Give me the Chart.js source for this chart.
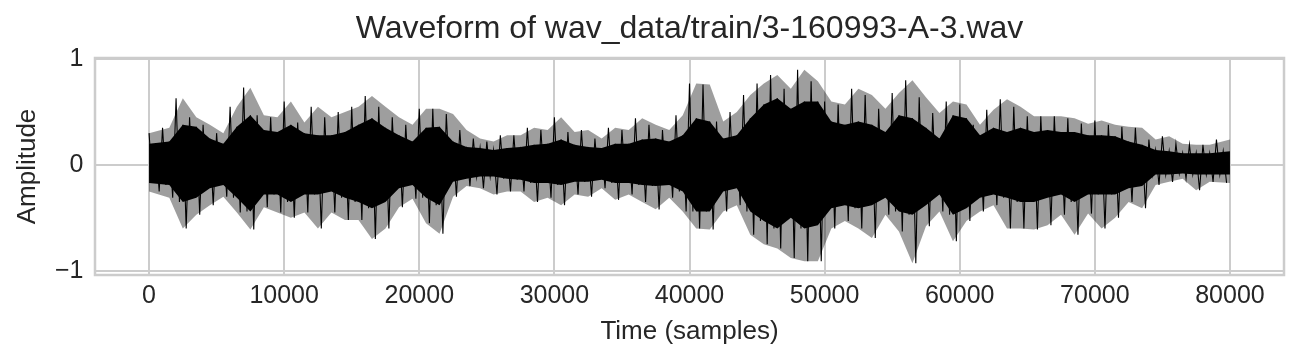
<!DOCTYPE html>
<html>
<head>
<meta charset="utf-8">
<script src="https://cdn.jsdelivr.net/npm/chart.js@4"></script>
<style>
  html, body { margin: 0; padding: 0; background: #ffffff; }
  #wrap { position: relative; width: 1301px; height: 363px; }
</style>
</head>
<body>
<div id="wrap"><canvas id="wave"></canvas></div>
<script>
// envelope of the clip, one value per 1000-sample bin
const binSize = 1000;
const nSamples = 80000;

// outermost spikes per bin
const peakMax = [
  0.30, 0.35, 0.63, 0.45, 0.38, 0.30, 0.55, 0.73, 0.47, 0.45,
  0.60, 0.40, 0.55, 0.45, 0.50, 0.55, 0.65, 0.55, 0.45, 0.38,
  0.53, 0.53, 0.48, 0.33, 0.25, 0.22, 0.28, 0.28, 0.35, 0.33,
  0.45, 0.31, 0.33, 0.25, 0.35, 0.33, 0.44, 0.38, 0.33, 0.47,
  0.77, 0.76, 0.41, 0.50, 0.66, 0.77, 0.85, 0.72, 0.90, 0.79,
  0.60, 0.57, 0.72, 0.66, 0.53, 0.68, 0.80, 0.64, 0.49, 0.60,
  0.57, 0.38, 0.52, 0.62, 0.55, 0.46, 0.46, 0.46, 0.44, 0.39,
  0.42, 0.38, 0.36, 0.35, 0.24, 0.27, 0.20, 0.19, 0.19, 0.24
];
const peakMin = [
  -0.25, -0.31, -0.60, -0.47, -0.38, -0.30, -0.45, -0.61, -0.40, -0.45,
  -0.50, -0.45, -0.60, -0.45, -0.52, -0.52, -0.70, -0.60, -0.40, -0.32,
  -0.55, -0.65, -0.30, -0.20, -0.22, -0.28, -0.25, -0.25, -0.35, -0.31,
  -0.38, -0.28, -0.30, -0.22, -0.33, -0.28, -0.35, -0.42, -0.31, -0.44,
  -0.60, -0.61, -0.44, -0.38, -0.66, -0.75, -0.79, -0.88, -0.91, -0.91,
  -0.60, -0.53, -0.60, -0.69, -0.47, -0.63, -0.93, -0.58, -0.44, -0.72,
  -0.53, -0.44, -0.38, -0.60, -0.60, -0.61, -0.57, -0.47, -0.66, -0.46,
  -0.60, -0.50, -0.35, -0.41, -0.19, -0.16, -0.13, -0.24, -0.16, -0.17
];

// dense (solid black) part per bin
const coreMax = [
  0.20, 0.22, 0.38, 0.36, 0.25, 0.20, 0.36, 0.47, 0.33, 0.31,
  0.38, 0.30, 0.28, 0.28, 0.31, 0.38, 0.44, 0.35, 0.28, 0.22,
  0.35, 0.36, 0.22, 0.17, 0.16, 0.14, 0.16, 0.17, 0.19, 0.20,
  0.24, 0.19, 0.17, 0.16, 0.20, 0.20, 0.24, 0.25, 0.22, 0.28,
  0.44, 0.41, 0.25, 0.28, 0.44, 0.57, 0.63, 0.53, 0.60, 0.60,
  0.41, 0.38, 0.41, 0.38, 0.31, 0.47, 0.44, 0.35, 0.25, 0.47,
  0.44, 0.28, 0.35, 0.31, 0.35, 0.31, 0.33, 0.31, 0.31, 0.28,
  0.28, 0.27, 0.22, 0.19, 0.14, 0.13, 0.11, 0.11, 0.11, 0.13
];
const coreMin = [
  -0.17, -0.19, -0.35, -0.31, -0.22, -0.19, -0.31, -0.44, -0.28, -0.28,
  -0.35, -0.28, -0.28, -0.25, -0.31, -0.35, -0.41, -0.35, -0.22, -0.19,
  -0.31, -0.38, -0.16, -0.13, -0.11, -0.11, -0.13, -0.14, -0.17, -0.17,
  -0.19, -0.16, -0.16, -0.14, -0.17, -0.17, -0.19, -0.20, -0.19, -0.25,
  -0.44, -0.44, -0.25, -0.22, -0.44, -0.53, -0.60, -0.50, -0.60, -0.57,
  -0.41, -0.38, -0.41, -0.38, -0.31, -0.44, -0.47, -0.38, -0.28, -0.47,
  -0.41, -0.31, -0.28, -0.31, -0.35, -0.35, -0.31, -0.28, -0.35, -0.28,
  -0.28, -0.28, -0.22, -0.20, -0.09, -0.09, -0.08, -0.09, -0.09, -0.09
];

const xTicks = [0, 10000, 20000, 30000, 40000, 50000, 60000, 70000, 80000];
const yTicks = [-1, 0, 1];

const textColour = '#262626';
const gridColour = '#cccccc';
const fontFamily = '"Liberation Sans", Arial, sans-serif';

// envelope lines sit at the bin centre, the first and last are pinned to the clip ends
const atCentre = arr => arr.map((v, i) => {
  let x = i * binSize + binSize / 2;
  if (i === 0) x = 0;
  if (i === arr.length - 1) x = nSamples;
  return { x: x, y: v };
});

// trace that swings between the bin extremes, so the edge looks spiky
const trace = [];
peakMax.forEach((v, i) => {
  const s = i * binSize;
  trace.push({ x: s, y: v });
  trace.push({ x: s + binSize * 0.25, y: coreMin[i] });
  trace.push({ x: s + binSize * 0.5, y: coreMax[i] });
  trace.push({ x: s + binSize * 0.75, y: peakMin[i] });
});

// matplotlib draws a box round the axes, chart.js only the axis sides
const framePlugin = {
  id: 'frame',
  afterDraw(chart) {
    const { ctx, chartArea: a } = chart;
    ctx.save();
    ctx.strokeStyle = gridColour;
    ctx.lineWidth = 2.5;
    ctx.strokeRect(a.left, a.top, a.right - a.left, a.bottom - a.top);
    ctx.restore();
  }
};

new Chart(document.getElementById('wave'), {
  type: 'line',
  data: {
    datasets: [
      {
        label: 'trace',
        data: trace,
        borderColor: '#000000',
        borderWidth: 1.1,
        pointRadius: 0,
        tension: 0,
        fill: false,
        order: 0
      },
      {
        label: 'core max',
        data: atCentre(coreMax),
        borderWidth: 0,
        pointRadius: 0,
        backgroundColor: '#000000',
        fill: '+1',
        order: 1
      },
      {
        label: 'core min',
        data: atCentre(coreMin),
        borderWidth: 0,
        pointRadius: 0,
        fill: false,
        order: 2
      },
      {
        label: 'peak max',
        data: atCentre(peakMax),
        borderWidth: 0,
        pointRadius: 0,
        backgroundColor: 'rgba(0, 0, 0, 0.38)',
        fill: '+1',
        order: 3
      },
      {
        label: 'peak min',
        data: atCentre(peakMin),
        borderWidth: 0,
        pointRadius: 0,
        fill: false,
        order: 4
      }
    ]
  },
  options: {
    responsive: true,
    maintainAspectRatio: false,
    animation: false,
    events: [],
    layout: { padding: { left: 0, right: 17, top: 0, bottom: 0 } },
    plugins: {
      legend: { display: false },
      tooltip: { enabled: false },
      title: {
        display: true,
        text: 'Waveform of wav_data/train/3-160993-A-3.wav',
        color: textColour,
        fullSize: false,
        font: { family: fontFamily, size: 32, weight: 'normal' },
        padding: { top: 10, bottom: 9.6 }
      }
    },
    scales: {
      x: {
        type: 'linear',
        min: -4000,
        max: 84000,
        afterBuildTicks: s => { s.ticks = xTicks.map(v => ({ value: v })); },
        afterFit: s => { s.height = 88; },
        grid: { color: gridColour, lineWidth: 2, drawTicks: false },
        border: { display: false },
        ticks: {
          color: textColour,
          padding: 6.5,
          maxRotation: 0,
          autoSkip: false,
          font: { family: fontFamily, size: 25 },
          callback: v => String(v)
        },
        title: {
          display: true,
          text: 'Time (samples)',
          color: textColour,
          font: { family: fontFamily, size: 26 },
          padding: { top: 0, bottom: 16 }
        }
      },
      y: {
        min: -1.04,
        max: 1.01,
        afterBuildTicks: s => { s.ticks = yTicks.map(v => ({ value: v })); },
        afterFit: s => { s.width = 95; },
        grid: { color: gridColour, lineWidth: 2, drawTicks: false },
        border: { display: false },
        ticks: {
          color: textColour,
          padding: 11.5,
          autoSkip: false,
          font: { family: fontFamily, size: 25 },
          callback: v => (v < 0 ? '\u2212' + Math.abs(v) : String(v))
        },
        title: {
          display: true,
          text: 'Amplitude',
          color: textColour,
          font: { family: fontFamily, size: 26 },
          padding: { top: 12, bottom: 0 }
        }
      }
    }
  },
  plugins: [framePlugin]
});
</script>
</body>
</html>
